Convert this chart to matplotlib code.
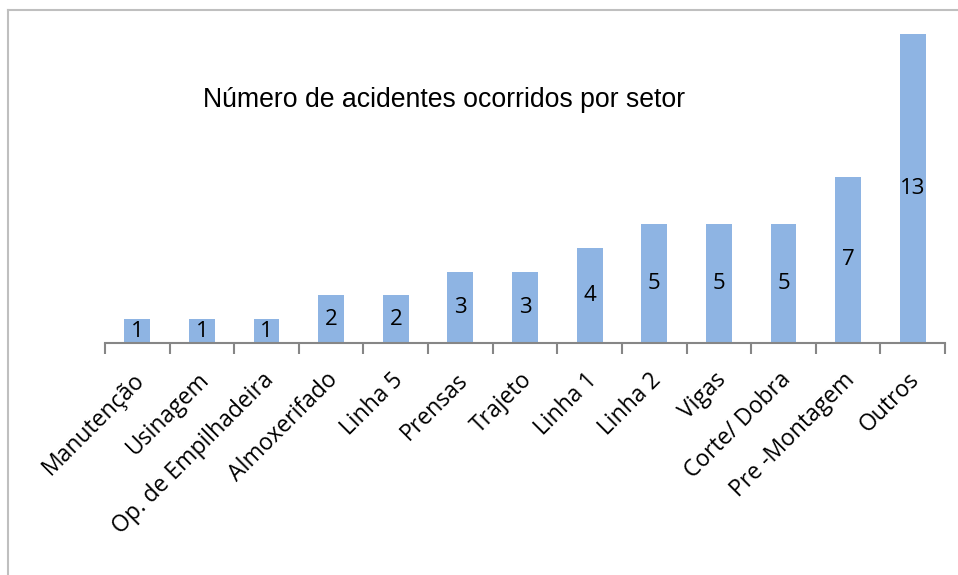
import matplotlib.pyplot as plt
import matplotlib.transforms as mtransforms
import numpy as np
from matplotlib.lines import Line2D

# Dados do grafico
setores = ["Manutenção", "Usinagem", "Op. de Empilhadeira", "Almoxerifado",
           "Linha 5", "Prensas", "Trajeto", "Linha 1", "Linha 2", "Vigas",
           "Corte/ Dobra", "Pre -Montagem", "Outros"]
acidentes = [1, 1, 1, 2, 2, 3, 3, 4, 5, 5, 5, 7, 13]
titulo = "Número de acidentes ocorridos por setor"

fig = plt.figure(figsize=(9.58, 5.75), dpi=100)
ax = fig.add_axes([105 / 958, 232 / 575, 840 / 958, 309 / 575])

x = np.arange(len(setores))
bars = ax.bar(x, acidentes, width=0.4, color='#8EB4E3')

# rotulos de valor no meio das barras
for b, v in zip(bars, acidentes):
    ax.text(b.get_x() + b.get_width() / 2, v / 2, str(v), ha='center', va='center',
            fontsize=16, family='Open Sans', color='black')

ax.set_xlim(-0.5, len(setores) - 0.5)
ax.set_ylim(0, 13)

# eixo: so a linha de baixo
for s in ['top', 'right', 'left']:
    ax.spines[s].set_visible(False)
ax.spines['bottom'].set_color('#868686')
ax.spines['bottom'].set_linewidth(1.5)
ax.set_yticks([])

# marcas entre categorias
ax.set_xticks(np.arange(-0.5, len(setores)), minor=True)
ax.tick_params(axis='x', which='minor', length=8, width=1.5, color='#868686')
ax.set_xticks(x)
ax.set_xticklabels(setores, rotation=45, ha='right', va='top', rotation_mode='anchor',
                   fontsize=16.5, family='Open Sans')
ax.tick_params(axis='x', which='major', length=0, pad=18)
desloc = mtransforms.ScaledTranslation(-5 / 100, 0, fig.dpi_scale_trans)
for lbl in ax.get_xticklabels():
    lbl.set_transform(lbl.get_transform() + desloc)

fig.text(203 / 958, 1 - 100 / 575, titulo, ha='left', va='center',
         fontsize=19.2, family='Liberation Sans')

# moldura cinza (esquerda e topo)
fig.add_artist(Line2D([8 / 958, 8 / 958], [0, 1 - 10 / 575], transform=fig.transFigure,
                      color='#BFBFBF', lw=1.5))
fig.add_artist(Line2D([8 / 958, 1], [1 - 10 / 575, 1 - 10 / 575], transform=fig.transFigure,
                      color='#BFBFBF', lw=1.5))

fig.savefig('out.png', dpi=100)
